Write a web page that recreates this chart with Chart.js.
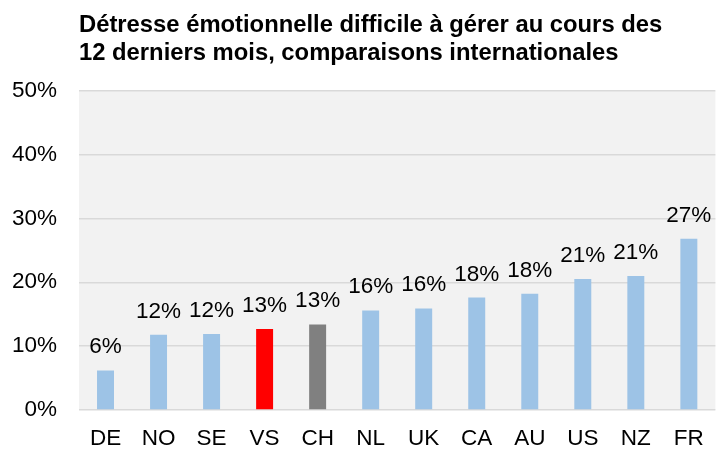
<!DOCTYPE html>
<html>
<head>
<meta charset="utf-8">
<script src="https://cdn.jsdelivr.net/npm/chart.js@4"></script>
<style>
  html, body { margin: 0; padding: 0; background: #fff; }
  #wrap { width: 719px; height: 450px; }
</style>
</head>
<body>
<div id="wrap"><canvas id="c" width="719" height="450"></canvas></div>
<script>
const countries = ['DE', 'NO', 'SE', 'VS', 'CH', 'NL', 'UK', 'CA', 'AU', 'US', 'NZ', 'FR'];
const values = [6.2, 11.8, 11.9, 12.7, 13.4, 15.6, 15.9, 17.6, 18.2, 20.5, 21.0, 26.8];
const barColors = ['#9dc3e6', '#9dc3e6', '#9dc3e6', '#ff0000', '#808080', '#9dc3e6',
                   '#9dc3e6', '#9dc3e6', '#9dc3e6', '#9dc3e6', '#9dc3e6', '#9dc3e6'];
const yTicks = [0, 10, 20, 30, 40, 50];
const titleLines = ['Détresse émotionnelle difficile à gérer au cours des',
                    '12 derniers mois, comparaisons internationales'];

const FONT = "'Liberation Sans', Arial, sans-serif";

// grey background behind the plot only
const plotBg = {
    id: 'plotBg',
    beforeDraw(chart) {
        const { ctx, chartArea: a } = chart;
        ctx.save();
        ctx.fillStyle = '#f2f2f2';
        ctx.fillRect(a.left, a.top, a.right - a.left, a.bottom - a.top);
        ctx.restore();
    }
};

// value labels above bars
const valueLabels = {
    id: 'valueLabels',
    afterDatasetsDraw(chart) {
        const { ctx } = chart;
        const meta = chart.getDatasetMeta(0);
        ctx.save();
        ctx.font = '22.5px ' + FONT;
        ctx.fillStyle = '#000';
        ctx.textAlign = 'center';
        ctx.textBaseline = 'alphabetic';
        meta.data.forEach((bar, i) => {
            ctx.fillText(Math.round(values[i]) + '%', bar.x, bar.y - 17);
        });
        ctx.restore();
    }
};

new Chart(document.getElementById('c'), {
    type: 'bar',
    data: {
        labels: countries,
        datasets: [{
            data: values,
            backgroundColor: barColors,
            borderWidth: 0,
            categoryPercentage: 1,
            barPercentage: 0.32
        }]
    },
    options: {
        responsive: false,
        animation: false,
        layout: { padding: 0 },
        plugins: {
            legend: { display: false },
            tooltip: { enabled: false },
            title: {
                display: true,
                text: titleLines,
                align: 'start',
                fullSize: false,
                color: '#000',
                font: { family: FONT, size: 23.8, weight: 'bold', lineHeight: 1.17 },
                padding: { top: 12, bottom: 23 }
            }
        },
        scales: {
            x: {
                grid: { display: false, drawTicks: false },
                border: { display: false },
                ticks: { color: '#000', font: { family: FONT, size: 22.5 }, padding: 15 },
                afterFit: s => { s.height = 40; }
            },
            y: {
                min: 0,
                max: 50,
                afterBuildTicks: s => { s.ticks = yTicks.map(v => ({ value: v })); },
                grid: { color: '#d9d9d9', lineWidth: 1.5, drawTicks: false },
                border: { display: false },
                ticks: {
                    color: '#000',
                    font: { family: FONT, size: 22.5 },
                    padding: 22,
                    callback: v => v + '%'
                },
                afterFit: s => { s.width = 79; }
            }
        }
    },
    plugins: [plotBg, valueLabels]
});
</script>
</body>
</html>
